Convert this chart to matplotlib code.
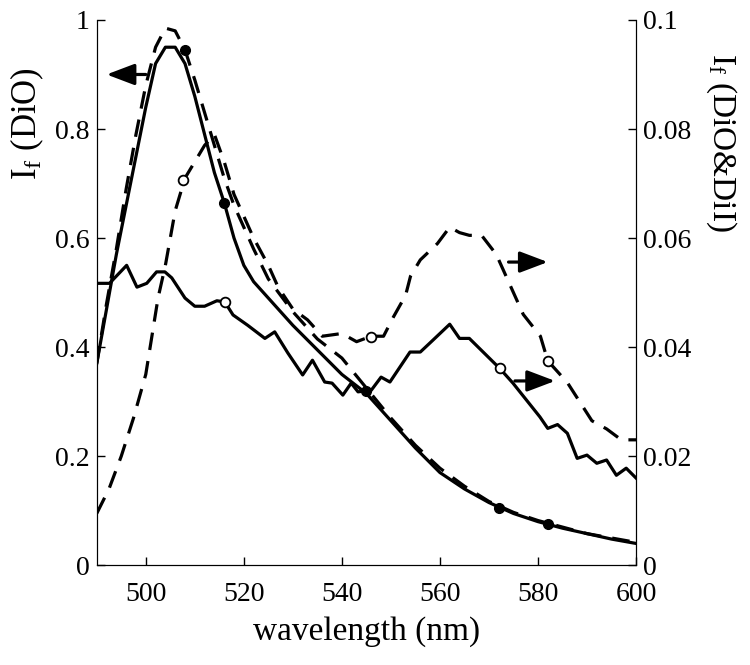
import numpy as np
import matplotlib.pyplot as plt

plt.rcParams['font.family'] = ['Liberation Serif', 'DejaVu Serif']
plt.rcParams['mathtext.fontset'] = 'custom'
plt.rcParams['mathtext.rm'] = 'Liberation Serif'
plt.rcParams['mathtext.it'] = 'Liberation Serif:italic'

## DiO alone (left axis)
wl_dio = [490, 492, 494, 496, 498, 500, 502, 504, 506, 508, 510, 512, 514, 516,
          518, 520, 522, 525, 530, 535, 540, 545, 550, 555, 560, 565, 570, 575,
          580, 585, 590, 595, 600]
dio_solid = [0.37, 0.47, 0.57, 0.66, 0.75, 0.84, 0.92, 0.95, 0.95, 0.92, 0.86, 0.79,
             0.72, 0.665, 0.60, 0.55, 0.52, 0.49, 0.44, 0.395, 0.35, 0.315, 0.265,
             0.215, 0.17, 0.14, 0.115, 0.095, 0.08, 0.068, 0.058, 0.048, 0.04]
dio_dash = [0.37, 0.48, 0.58, 0.69, 0.79, 0.88, 0.95, 0.985, 0.98, 0.945, 0.89, 0.83,
            0.77, 0.71, 0.66, 0.62, 0.58, 0.525, 0.465, 0.415, 0.38, 0.325, 0.27,
            0.22, 0.178, 0.145, 0.117, 0.097, 0.082, 0.07, 0.058, 0.05, 0.042]

## DiO & DiI (right axis)
wl_fs = [490, 492.6, 496.1, 498.2, 500.2, 502.2, 503.9, 505.3, 508, 510, 512, 514.5,
         516.1, 517.8, 520.8, 524.3, 526.3, 529, 532, 534, 536.5, 538, 540.2, 541.9,
         543.3, 546, 548, 549.8, 553.9, 556, 558.6, 562, 564, 566, 572.2, 574.9,
         580.4, 582, 584, 586, 588, 590, 592, 594, 596, 598, 600]
fret_solid = [0.0517, 0.0517, 0.055, 0.051, 0.0517, 0.0538, 0.0538, 0.0527, 0.049,
              0.0475, 0.0475, 0.0485, 0.0483, 0.0459, 0.044, 0.0416, 0.0428, 0.0389,
              0.0349, 0.0376, 0.0336, 0.0334, 0.0312, 0.0334, 0.0318, 0.0321, 0.0345,
              0.0336, 0.0391, 0.0391, 0.0413, 0.0442, 0.0416, 0.0416, 0.0361, 0.0334,
              0.0272, 0.0251, 0.0258, 0.0242, 0.0196, 0.0202, 0.0187, 0.0193, 0.0165,
              0.0178, 0.016]

wl_fd = [490, 492.5, 495, 497.5, 500, 502.5, 504, 506, 508, 510, 512, 514, 516, 518,
         520, 522, 525, 527, 530, 533, 536, 540, 543, 546, 548.5, 550.5, 553, 554,
         556, 559.5, 562, 564, 566, 568.5, 571.5, 573.5, 575, 577, 580.5, 582, 586,
         588.5, 591, 594, 597, 600]
fret_dash = [0.0095, 0.014, 0.020, 0.027, 0.035, 0.049, 0.055, 0.065, 0.071, 0.074,
             0.077, 0.079, 0.074, 0.068, 0.064, 0.060, 0.055, 0.051, 0.047, 0.045,
             0.042, 0.0425, 0.041, 0.042, 0.042, 0.0455, 0.0495, 0.053, 0.056, 0.059,
             0.062, 0.061, 0.0605, 0.0605, 0.057, 0.053, 0.050, 0.046, 0.042, 0.0375,
             0.0335, 0.030, 0.0265, 0.025, 0.023, 0.023]

## marker points
mk_dio_x = [508, 516, 545, 572, 582]
mk_dio_y = [0.945, 0.665, 0.32, 0.105, 0.075]
mk_fret_x = [507.6, 516.1, 546, 572.2, 582]
mk_fret_y = [0.0706, 0.0483, 0.0418, 0.0361, 0.0374]

fig = plt.figure(figsize=(7.5, 6.65), dpi=100)
ax = fig.add_axes([0.129, 0.150, 0.719, 0.820])
ax2 = ax.twinx()

lw = 2.3
dash = (5.5, 3.5)
ax.plot(wl_dio, dio_solid, 'k-', lw=lw)
ax.plot(wl_dio, dio_dash, 'k--', lw=lw, dashes=dash)
ax.plot(mk_dio_x, mk_dio_y, 'ko', ms=7, ls='none')

ax2.plot(wl_fs, fret_solid, 'k-', lw=lw)
ax2.plot(wl_fd, fret_dash, 'k--', lw=lw, dashes=dash)
ax2.plot(mk_fret_x, mk_fret_y, 'o', ms=7, mfc='white', mec='k', mew=1.3, ls='none')

ax.set_xlim(490, 600)
ax.set_ylim(0, 1)
ax2.set_ylim(0, 0.1)
ax.set_xticks([500, 520, 540, 560, 580, 600])
ax.set_yticks([0, 0.2, 0.4, 0.6, 0.8, 1])
ax.set_yticklabels(['0', '0.2', '0.4', '0.6', '0.8', '1'])
ax2.set_yticks([0, 0.02, 0.04, 0.06, 0.08, 0.1])
ax2.set_yticklabels(['0', '0.02', '0.04', '0.06', '0.08', '0.1'])

for a in (ax, ax2):
    a.spines['top'].set_visible(False)
    a.tick_params(direction='in', length=6, width=1, labelsize=20)
ax.tick_params(axis='x', pad=12)
ax.tick_params(axis='y', pad=5)
ax2.tick_params(axis='y', pad=5)

ax.set_xlabel('wavelength (nm)', fontsize=24, labelpad=7)
ax.set_ylabel(r'I$_\mathregular{f}$ (DiO)', fontsize=25)
ax.yaxis.set_label_coords(-0.094, 0.81)
ax2.set_ylabel(r'I$_\mathregular{f}$ (DiO&DiI)', fontsize=24, rotation=-90)
ax2.yaxis.set_label_coords(1.19, 0.775)

# direction arrows
arr = dict(arrowstyle='-|>,head_length=0.95,head_width=0.36', color='k', lw=2.3,
           shrinkA=0, shrinkB=0, mutation_scale=18)
ax.annotate('', xy=(492, 0.90), xytext=(500, 0.90), arrowprops=arr)
ax2.annotate('', xy=(582, 0.0556), xytext=(574, 0.0556), arrowprops=arr)
ax2.annotate('', xy=(583.5, 0.0338), xytext=(575.3, 0.0338), arrowprops=arr)

fig.savefig('out.png', dpi=100)
